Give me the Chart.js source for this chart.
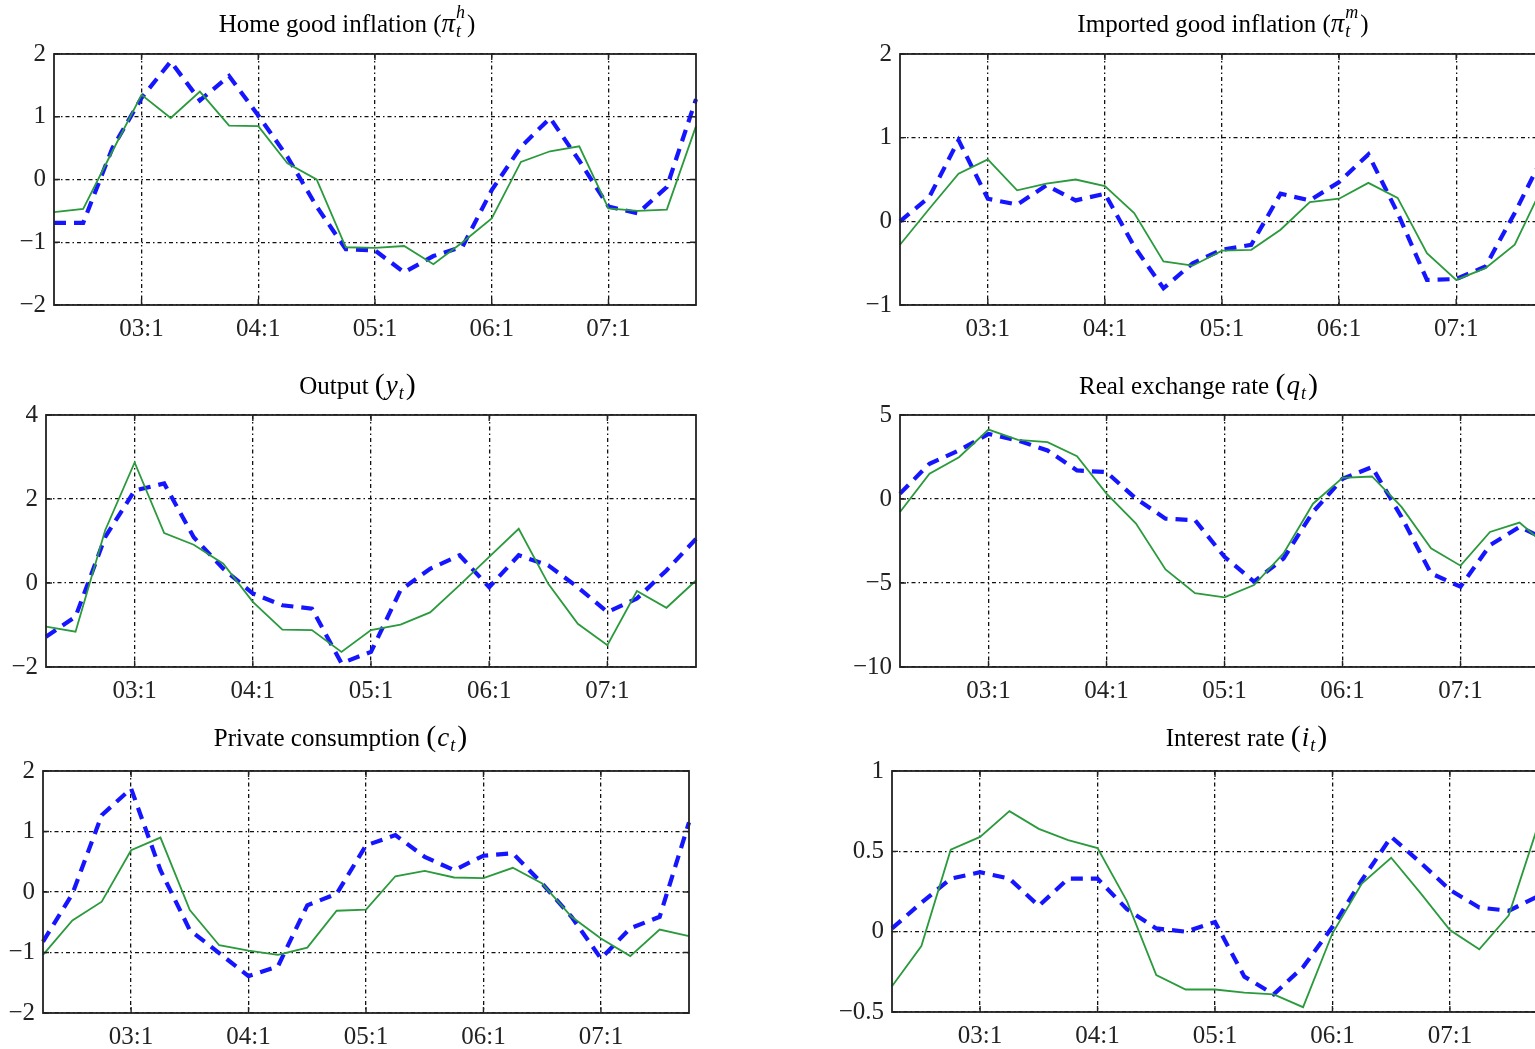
<!DOCTYPE html>
<html>
<head>
<meta charset="utf-8">
<script src="https://cdn.jsdelivr.net/npm/chart.js@4.4.0/dist/chart.umd.min.js"></script>
<style>
  html, body { margin: 0; padding: 0; background: #fff; overflow: hidden; }
  #page { position: relative; width: 1535px; height: 1049px; overflow: hidden; background: #fff; }
  #page canvas { position: absolute; }
</style>
</head>
<body>
<div id="page"></div>
<script>
// Trimestres 02:2 – 07:4 (solo se rotulan los :1)
const quarters = [
  '02:2', '02:3', '02:4',
  '03:1', '03:2', '03:3', '03:4',
  '04:1', '04:2', '04:3', '04:4',
  '05:1', '05:2', '05:3', '05:4',
  '06:1', '06:2', '06:3', '06:4',
  '07:1', '07:2', '07:3', '07:4'
];

// Inflación bienes domésticos
const piHGreen = [-0.52, -0.47, 0.45, 1.35, 0.98, 1.40, 0.86, 0.85, 0.26, 0.00, -1.08, -1.09, -1.06, -1.35, -1.00, -0.62, 0.28, 0.45, 0.53, -0.46, -0.50, -0.48, 0.85];
const piHBlue  = [-0.69, -0.69, 0.50, 1.30, 1.88, 1.26, 1.65, 1.02, 0.36, -0.43, -1.11, -1.13, -1.48, -1.22, -1.07, -0.17, 0.52, 0.98, 0.30, -0.43, -0.54, -0.12, 1.28];

// Inflación bienes importados
const piMGreen = [-0.28, 0.15, 0.57, 0.74, 0.37, 0.45, 0.50, 0.42, 0.10, -0.48, -0.53, -0.35, -0.34, -0.10, 0.23, 0.27, 0.46, 0.28, -0.38, -0.70, -0.56, -0.28, 0.45];
const piMBlue  = [0.00, 0.29, 0.97, 0.27, 0.20, 0.43, 0.25, 0.33, -0.30, -0.80, -0.50, -0.34, -0.28, 0.33, 0.25, 0.47, 0.80, 0.10, -0.70, -0.69, -0.54, 0.10, 0.80];

// Producto
const yGreen = [-1.04, -1.16, 1.25, 2.87, 1.19, 0.91, 0.46, -0.45, -1.11, -1.12, -1.64, -1.12, -0.99, -0.70, -0.05, 0.62, 1.29, -0.02, -0.97, -1.48, -0.19, -0.59, 0.06];
const yBlue  = [-1.28, -0.80, 1.09, 2.20, 2.37, 1.09, 0.34, -0.25, -0.53, -0.61, -1.91, -1.64, -0.17, 0.34, 0.66, -0.10, 0.66, 0.42, -0.10, -0.69, -0.37, 0.30, 1.05];

// Tipo de cambio real
const qGreen = [-0.77, 1.50, 2.49, 4.13, 3.52, 3.38, 2.55, 0.32, -1.46, -4.19, -5.61, -5.85, -5.12, -3.24, -0.28, 1.26, 1.34, -0.47, -2.94, -3.97, -1.96, -1.40, -2.90];
const qBlue  = [0.32, 2.10, 2.89, 3.87, 3.48, 2.89, 1.70, 1.60, 0.02, -1.17, -1.26, -3.44, -4.92, -3.54, -0.77, 1.20, 1.90, -1.07, -4.43, -5.22, -2.75, -1.66, -2.50];

// Consumo privado
const cGreen = [-1.04, -0.47, -0.16, 0.69, 0.90, -0.30, -0.88, -0.97, -1.04, -0.92, -0.31, -0.29, 0.26, 0.35, 0.24, 0.23, 0.40, 0.14, -0.41, -0.77, -1.06, -0.62, -0.73];
const cBlue  = [-0.82, -0.03, 1.27, 1.71, 0.36, -0.63, -1.01, -1.39, -1.23, -0.22, -0.03, 0.77, 0.94, 0.58, 0.36, 0.60, 0.64, 0.14, -0.41, -1.10, -0.60, -0.41, 1.15];

// Tasa de interés
const iGreen = [-0.34, -0.09, 0.51, 0.59, 0.75, 0.64, 0.57, 0.52, 0.19, -0.27, -0.36, -0.36, -0.38, -0.39, -0.47, -0.01, 0.30, 0.46, 0.24, 0.01, -0.11, 0.10, 0.66];
const iBlue  = [0.02, 0.18, 0.33, 0.37, 0.33, 0.16, 0.33, 0.33, 0.14, 0.02, 0.00, 0.06, -0.28, -0.39, -0.22, 0.03, 0.32, 0.59, 0.43, 0.26, 0.15, 0.13, 0.22];

// Títulos (partes: n normal, i cursiva, sub / sup, P paréntesis grande)
const titles = [
  [{ t: 'Home good inflation (', s: 'n' }, { t: 'π', s: 'i' }, { t: 't', s: 'sub' }, { t: 'h', s: 'sup' }, { t: ')', s: 'n' }],
  [{ t: 'Imported good inflation (', s: 'n' }, { t: 'π', s: 'i' }, { t: 't', s: 'sub' }, { t: 'm', s: 'sup' }, { t: ')', s: 'n' }],
  [{ t: 'Output ', s: 'n' }, { t: '(', s: 'P' }, { t: 'y', s: 'i' }, { t: 't', s: 'sub' }, { t: ')', s: 'P' }],
  [{ t: 'Real exchange rate ', s: 'n' }, { t: '(', s: 'P' }, { t: 'q', s: 'i' }, { t: 't', s: 'sub' }, { t: ')', s: 'P' }],
  [{ t: 'Private consumption ', s: 'n' }, { t: '(', s: 'P' }, { t: 'c', s: 'i' }, { t: 't', s: 'sub' }, { t: ')', s: 'P' }],
  [{ t: 'Interest rate ', s: 'n' }, { t: '(', s: 'P' }, { t: 'i', s: 'i' }, { t: 't', s: 'sub' }, { t: ')', s: 'P' }]
];

const yMins  = [-2, -1, -2, -10, -2, -0.5];
const yMaxs  = [2, 2, 4, 5, 2, 1];
const ySteps = [1, 1, 2, 5, 1, 0.5];
const greenSeries = [piHGreen, piMGreen, yGreen, qGreen, cGreen, iGreen];
const blueSeries  = [piHBlue, piMBlue, yBlue, qBlue, cBlue, iBlue];

// Posición de cada panel en la página (caja del gráfico y centro del título)
const layoutPaneles = [
  { l: 54,  t: 54,  r: 696,  b: 305,  tx: 347,  ty: 25 },
  { l: 900, t: 54,  r: 1544, b: 305,  tx: 1223, ty: 25 },
  { l: 46,  t: 415, r: 696,  b: 667,  tx: 358,  ty: 387 },
  { l: 900, t: 415, r: 1549, b: 667,  tx: 1199, ty: 387 },
  { l: 43,  t: 771, r: 689,  b: 1013, tx: 341,  ty: 739 },
  { l: 892, t: 771, r: 1538, b: 1012, tx: 1247, ty: 739 }
];

const FAMILIA = '"Liberation Serif", "Times New Roman", "DejaVu Serif", serif';
const MARGEN_IZQ = 60;
const MARGEN_SUP = 60;
const MARGEN_DER = 12;
const MARGEN_INF = 40;

function fmtNum(v) {
  const s = String(Math.abs(Math.round(v * 100) / 100));
  return v < 0 ? '\u2212' + s : s;
}

/**
 * Dibuja el título con partes en cursiva, subíndices y superíndices
 */
function dibujarTitulo(ctx, partes, cx, cy) {
  const base = 25;
  const items = [];
  let x = 0;
  let prev = null;
  partes.forEach(p => {
    let font = `${base}px ${FAMILIA}`;
    let dy = 0;
    let extra = 0;
    if (p.s === 'i') { font = `italic ${Math.round(base * 1.08)}px ${FAMILIA}`; extra = 1; }
    if (p.s === 'P') { font = `${Math.round(base * 1.2)}px ${FAMILIA}`; dy = -1; extra = 1; }
    if (p.s === 'sub' || p.s === 'sup') {
      font = `italic ${Math.round(base * 0.72)}px ${FAMILIA}`;
      dy = p.s === 'sub' ? base * 0.3 : -base * 0.45;
      extra = 2;
    }
    ctx.font = font;
    const w = ctx.measureText(p.t).width + extra;
    let x0 = x;
    if (p.s === 'sup' && prev && prev.s === 'sub') x0 = prev.x0;
    items.push({ t: p.t, font, dy, x0 });
    x = Math.max(x, x0 + w);
    prev = { s: p.s, x0 };
  });
  const inicio = cx - x / 2;
  ctx.save();
  ctx.fillStyle = '#000';
  ctx.textBaseline = 'middle';
  ctx.textAlign = 'left';
  items.forEach(it => {
    ctx.font = it.font;
    ctx.fillText(it.t, inicio + it.x0, cy + it.dy);
  });
  ctx.restore();
}

// Plugin: marco negro, marcas interiores y título
const pluginMarco = {
  id: 'marco',
  afterDraw(chart, args, opts) {
    const { ctx, chartArea: a, scales } = chart;
    ctx.save();
    ctx.strokeStyle = '#222';
    ctx.lineWidth = 1.8;
    ctx.setLineDash([]);
    ctx.strokeRect(a.left, a.top, a.right - a.left, a.bottom - a.top);
    ctx.lineWidth = 1.4;
    const largo = 6;
    scales.y.ticks.forEach(tk => {
      const py = scales.y.getPixelForValue(tk.value);
      ctx.beginPath();
      ctx.moveTo(a.left, py); ctx.lineTo(a.left + largo, py);
      ctx.moveTo(a.right, py); ctx.lineTo(a.right - largo, py);
      ctx.stroke();
    });
    quarters.forEach((q, i) => {
      if (!q.endsWith(':1')) return;
      const px = scales.x.getPixelForValue(i);
      ctx.beginPath();
      ctx.moveTo(px, a.bottom); ctx.lineTo(px, a.bottom - largo);
      ctx.moveTo(px, a.top); ctx.lineTo(px, a.top + largo);
      ctx.stroke();
    });
    ctx.restore();
    dibujarTitulo(ctx, opts.partes, opts.cx, opts.cy);
  }
};

/**
 * Crea un panel con su propio canvas
 */
function crearPanel(n) {
  const lay = layoutPaneles[n];
  const ancho = (lay.r - lay.l) + MARGEN_IZQ + MARGEN_DER;
  const alto = (lay.b - lay.t) + MARGEN_SUP + MARGEN_INF;
  const izq = lay.l - MARGEN_IZQ;
  const arriba = lay.t - MARGEN_SUP;

  const canvas = document.createElement('canvas');
  canvas.width = ancho;
  canvas.height = alto;
  canvas.style.width = ancho + 'px';
  canvas.style.height = alto + 'px';
  canvas.style.left = izq + 'px';
  canvas.style.top = arriba + 'px';
  document.getElementById('page').appendChild(canvas);

  const gridColor = c => (quarters[c.index] && quarters[c.index].endsWith(':1')) ? '#111' : 'rgba(0,0,0,0)';

  new Chart(canvas, {
    type: 'line',
    data: {
      labels: quarters,
      datasets: [
        {
          label: 'green',
          data: greenSeries[n],
          borderColor: '#2a9a3c',
          borderWidth: 1.8,
          pointRadius: 0,
          tension: 0,
          fill: false
        },
        {
          label: 'blue',
          data: blueSeries[n],
          borderColor: '#1515ff',
          borderWidth: 4.2,
          borderDash: [12, 8],
          pointRadius: 0,
          tension: 0,
          fill: false
        }
      ]
    },
    options: {
      responsive: false,
      animation: false,
      devicePixelRatio: 1,
      layout: { padding: { top: MARGEN_SUP, right: MARGEN_DER, left: 0, bottom: 0 } },
      plugins: {
        legend: { display: false },
        tooltip: { enabled: false },
        title: { display: false },
        marco: { partes: titles[n], cx: lay.tx - izq, cy: lay.ty - arriba }
      },
      scales: {
        x: {
          type: 'category',
          offset: false,
          afterFit: ax => { ax.height = MARGEN_INF; },
          grid: { color: gridColor, lineWidth: 1.3, drawTicks: false },
          border: { display: false, dash: [4, 3, 1.5, 3] },
          ticks: {
            autoSkip: false,
            maxRotation: 0,
            padding: 9,
            color: '#222',
            font: { family: FAMILIA, size: 25 },
            callback: (v, i) => quarters[i].endsWith(':1') ? quarters[i] : ''
          }
        },
        y: {
          min: yMins[n],
          max: yMaxs[n],
          afterFit: ax => { ax.width = MARGEN_IZQ; },
          afterBuildTicks: ax => {
            const t = [];
            for (let v = yMins[n]; v <= yMaxs[n] + 1e-9; v += ySteps[n]) t.push({ value: Math.round(v * 100) / 100 });
            ax.ticks = t;
          },
          grid: { color: '#111', lineWidth: 1.3, drawTicks: false },
          border: { display: false, dash: [4, 3, 1.5, 3] },
          ticks: {
            padding: 8,
            color: '#222',
            font: { family: FAMILIA, size: 25 },
            callback: v => fmtNum(v)
          }
        }
      }
    },
    plugins: [pluginMarco]
  });
}

for (let n = 0; n < 6; n++) crearPanel(n);
</script>
</body>
</html>
